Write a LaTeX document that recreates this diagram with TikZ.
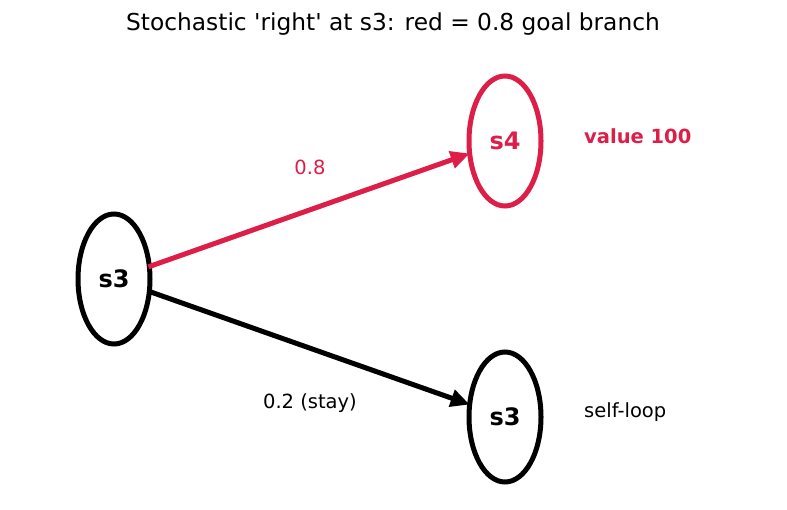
\documentclass[tikz,border=0pt]{standalone}
\usepackage{fontspec}
\setmainfont{DejaVu Sans}
\usetikzlibrary{shapes.geometric,arrows.meta}
\definecolor{goalred}{RGB}{220,30,72}
\tikzset{
  state/.style={ellipse, draw, line width=5pt, minimum width=72pt, minimum height=130pt, inner sep=0pt, outer sep=0pt, font=\fontsize{24}{28}\selectfont\bfseries},
  conn/.style={line width=5pt, -{Triangle[length=19pt,width=17pt]}, shorten <=-1pt},
  lbl/.style={font=\fontsize{19.5}{23}\selectfont, inner sep=0pt}
}
\begin{document}
\begin{tikzpicture}[x=1pt,y=-1pt]
\useasboundingbox (0,0) rectangle (787,510);
\node[font=\fontsize{23.3}{27}\selectfont, inner sep=0pt] (title) at (393,24) {Stochastic \textquotesingle right\textquotesingle{} at s3: red = 0.8 goal branch};
\node[state] (s3) at (114,279) {s3};
\node[state, draw=goalred, text=goalred] (s4) at (505,141) {s4};
\node[state] (s3b) at (505,417) {s3};
\draw[conn, goalred] (s3) -- (s4);
\draw[conn] (s3) -- (s3b);
\node[lbl, text=goalred] (p8) at (310,167) {0.8};
\node[lbl] (p2) at (310,403) {0.2 (stay)};
\node[lbl, anchor=west, text=goalred, font=\fontsize{19.5}{23}\selectfont\bfseries] (val) at (584,136) {value 100};
\node[lbl, anchor=west] (loop) at (584,412) {self-loop};
\end{tikzpicture}
\end{document}
